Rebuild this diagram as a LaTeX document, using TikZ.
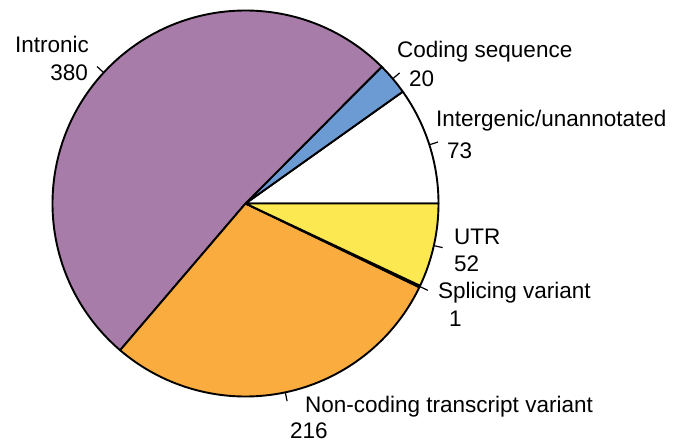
\documentclass[tikz,border=0pt]{standalone}
\usepackage{fontspec}
\setmainfont{Liberation Sans}
\usetikzlibrary{positioning, calc}
\definecolor{intrcol}{RGB}{168,124,168}
\definecolor{codcol}{RGB}{108,155,212}
\definecolor{utrcol}{RGB}{252,232,80}
\definecolor{nccol}{RGB}{250,172,62}
\tikzset{%
	slice/.style={draw=black, line width=1.9pt, line join=round},
	tickmark/.style={line width=1.2pt},
	lbl/.style={anchor=base west, inner sep=0pt, font=\fontsize{22.5}{27}\selectfont},
	lblr/.style={lbl, anchor=base east}
}

\begin{document}
\begin{tikzpicture}[x=1pt, y=1pt]
	\useasboundingbox (0,0) rectangle (679,445);
	\coordinate (c) at (245.5,241.5);
	\def\rad{193}

	% slices, counter-clockwise from the horizontal
	\filldraw[slice, fill=white] (c) -- ($(c)+(0:\rad)$) arc[start angle=0, end angle=35.418, radius=\rad] -- cycle;
	\filldraw[slice, fill=codcol] (c) -- ($(c)+(35.418:\rad)$) arc[start angle=35.418, end angle=45.121, radius=\rad] -- cycle;
	\filldraw[slice, fill=intrcol] (c) -- ($(c)+(45.121:\rad)$) arc[start angle=45.121, end angle=229.488, radius=\rad] -- cycle;
	\filldraw[slice, fill=nccol] (c) -- ($(c)+(229.488:\rad)$) arc[start angle=229.488, end angle=334.286, radius=\rad] -- cycle;
	\filldraw[slice, fill=nccol] (c) -- ($(c)+(334.286:\rad)$) arc[start angle=334.286, end angle=334.771, radius=\rad] -- cycle;
	\filldraw[slice, fill=utrcol] (c) -- ($(c)+(334.771:\rad)$) arc[start angle=334.771, end angle=360, radius=\rad] -- cycle;

	% tick marks at the slice middles
	\coordinate (t1a) at ($(c)+(137.30:\rad)$);   \coordinate (t1b) at ($(c)+(137.30:\rad+9)$);
	\coordinate (t2a) at ($(c)+(40.27:\rad)$);    \coordinate (t2b) at ($(c)+(40.27:\rad+9)$);
	\coordinate (t3a) at ($(c)+(17.71:\rad)$);    \coordinate (t3b) at ($(c)+(17.71:\rad+9)$);
	\coordinate (t4a) at ($(c)+(347.39:\rad)$);   \coordinate (t4b) at ($(c)+(347.39:\rad+9)$);
	\coordinate (t5a) at ($(c)+(334.53:\rad)$);   \coordinate (t5b) at ($(c)+(334.53:\rad+9)$);
	\coordinate (t6a) at ($(c)+(281.89:\rad)$);   \coordinate (t6b) at ($(c)+(281.89:\rad+9)$);
	\foreach \i in {1,...,6}
		\draw[tickmark] (t\i a) -- (t\i b);

	% labels
	\node[lbl] (intr) at (15,392) {Intronic};
	\node[lblr] (intr-n) at (88,364) {380};
	\node[lbl] (cod) at (397,387) {Coding sequence};
	\node[lbl] (cod-n) at (409,358) {20};
	\node[lbl] (inter) at (436,318) {Intergenic/unannotated};
	\node[lbl] (inter-n) at (447,287) {73};
	\node[lbl] (utr) at (454,201) {UTR};
	\node[lbl] (utr-n) at (454,174) {52};
	\node[lbl] (spl) at (438,147) {Splicing variant};
	\node[lbl] (spl-n) at (449,119) {1};
	\node[lbl] (nc) at (305,33) {Non-coding transcript variant};
	\node[lbl] (nc-n) at (290,7) {216};
\end{tikzpicture}
\end{document}
